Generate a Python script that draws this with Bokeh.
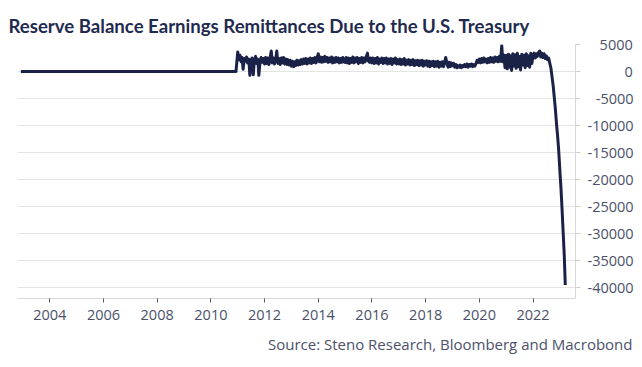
import pandas as pd
from bokeh.plotting import figure
from bokeh.models import FixedTicker, DatetimeTickFormatter, Title, Range1d
from bokeh.embed import file_html
from bokeh.resources import INLINE

title_text = "Reserve Balance Earnings Remittances Due to the U.S. Treasury"
source_text = "Source: Steno Research, Bloomberg and Macrobond"

# flat zero stretch before weekly remittances began
zero_dates = ["2002-12-04", "2010-12-08"]
zero_vals = [0, 0]

# semi-monthly readings (1st and 15th of each month), millions USD
y2011 = [3600, 2200, 3000, 1800, 2600, 400, 2400, 1900, 2700, 1600, 2300, -700,
         1800, 2500, -600, 2100, 2800, 1500, 2300, -700, 1900, 2600, 1700, 2400]
y2012 = [1400, 2600, 1500, 2500, 1300, 2400, 3800, 1600, 2500, 1400, 2300, 3800,
         1500, 2400, 1300, 2500, 1600, 2600, 1400, 2300, 1300, 2200, 1200, 2100]
y2013 = [1000, 1900, 900, 1800, 1100, 2100, 1200, 2000, 1300, 2200, 1400, 2300,
         1500, 2400, 1400, 2300, 1600, 2500, 1500, 2400, 1700, 2600, 1600, 2500]
y2014 = [3300, 1800, 2700, 1700, 2600, 1800, 2800, 1900, 2600, 1700, 2500, 1800,
         2700, 1600, 2500, 1700, 2600, 1800, 2500, 1600, 2400, 1700, 2600, 1800]
y2015 = [1700, 2600, 1600, 2500, 1500, 2400, 1700, 2700, 1600, 2500, 1800, 2600,
         1500, 2400, 1700, 2600, 1600, 2500, 1800, 2700, 3400, 1900, 1700, 2500]
y2016 = [1600, 2500, 1500, 2400, 1600, 2600, 1400, 2300, 1700, 2500, 1500, 2400,
         1600, 2500, 1400, 2300, 1500, 2400, 1300, 2300, 1600, 2500, 1400, 2200]
y2017 = [1400, 2300, 1300, 2200, 1400, 2400, 1200, 2100, 1400, 2200, 1200, 2100,
         1300, 2200, 1100, 2000, 1300, 2100, 1100, 2000, 1200, 2100, 1000, 1900]
y2018 = [1200, 2000, 1000, 1900, 900, 1800, 1100, 1900, 900, 1800, 1000, 1900,
         800, 1700, 1000, 1800, 900, 1700, 2600, 1600, 800, 1700, 900, 1600]
y2019 = [1100, 1500, 800, 1300, 700, 1100, 800, 1200, 700, 1100, 900, 1300,
         900, 1400, 800, 1300, 1000, 1400, 900, 1300, 1000, 1400, 2100, 1700]
y2020 = [2300, 1600, 2400, 1700, 2500, 1800, 2300, 1600, 2400, 1700, 2600, 1800,
         2500, 1700, 2700, 1900, 2600, 1800, 2800, 1900, 4800, 1800, 3000, 700]
y2021 = [3000, 500, 3200, 800, 2900, 200, 3300, 1000, 3100, 600, 3400, 900,
         2800, 300, 3200, 1200, 3000, 700, 3300, 1100, 2900, 800, 3400, 1500]
y2022 = [2900, 3400, 2500, 3300, 2800, 3500, 3800, 2700, 3400, 2600, 3300, 2400,
         2900, 2200, 2500, 1600, 600, -900, -2600, -4600, -7100, -9600, -12000, -14500]
y2023 = [-18500, -21500, -26000, -30000, -34000, -39500]

tick_years = [2004, 2006, 2008, 2010, 2012, 2014, 2016, 2018, 2020, 2022]
y_ticks = [5000, 0, -5000, -10000, -15000, -20000, -25000, -30000, -35000, -40000]

dates = pd.date_range("2011-01-01", "2023-03-15", freq="SMS")
values = (y2011 + y2012 + y2013 + y2014 + y2015 + y2016 + y2017 + y2018
          + y2019 + y2020 + y2021 + y2022 + y2023)
assert len(dates) == len(values)

xs = list(pd.to_datetime(zero_dates)) + list(dates)
ys = zero_vals + values

navy = "#1b2247"
label_color = "#4b5169"

p = figure(width=642, height=367, x_axis_type="datetime", y_axis_location="right",
           output_backend="svg", toolbar_location=None,
           x_range=Range1d(pd.Timestamp("2002-10-19"), pd.Timestamp("2023-08-01")),
           y_range=Range1d(-42000, 5000),
           min_border_left=17, min_border_right=67, min_border_top=44, min_border_bottom=69)

p.line(xs, ys, line_color=navy, line_width=3, line_join="round")

p.title.text = title_text
p.title.text_font = "Lato"
p.title.text_font_style = "bold"
p.title.text_font_size = "18.6px"
p.title.text_color = "#1f2a4f"
p.title.offset = -9
p.title.standoff = 16

p.outline_line_color = None
p.xgrid.visible = False
p.ygrid.grid_line_color = "#e4e4e4"
p.ygrid.grid_line_width = 1

xa = p.xaxis[0]
xa.ticker = FixedTicker(ticks=[pd.Timestamp(f"{yr}-01-01").timestamp() * 1000 for yr in tick_years])
xa.formatter = DatetimeTickFormatter(years="%Y", months="%Y", days="%Y", hours="%Y")
xa.axis_line_color = "#d8d8d8"
xa.major_tick_line_color = "#555555"
xa.major_tick_in = 0
xa.major_tick_out = 4
xa.minor_tick_line_color = None
xa.major_label_text_font = "Open Sans"
xa.major_label_text_font_size = "14.5px"
xa.major_label_text_color = label_color
xa.major_label_standoff = 7

ya = p.yaxis[0]
ya.ticker = FixedTicker(ticks=y_ticks)
ya.axis_line_color = "#d8d8d8"
ya.major_tick_line_color = "#d0d0d0"
ya.major_tick_in = 0
ya.major_tick_out = 5
ya.minor_tick_line_color = None
ya.major_label_text_font = "Open Sans"
ya.major_label_text_font_size = "14.5px"
ya.major_label_text_color = label_color
ya.major_label_standoff = 7

# right-align the y labels: pad with figure spaces (digit width) and punctuation spaces (sign width)
max_digits = max(sum(c.isdigit() for c in str(v)) for v in y_ticks)
max_signs = max(str(v).count("-") for v in y_ticks)
def padded(v):
    s = str(v)
    return ("\u2007" * (max_digits - sum(c.isdigit() for c in s))
            + "\u2008" * (max_signs - s.count("-")) + s)
ya.major_label_overrides = {v: padded(v) for v in y_ticks}

src = Title(text=source_text, align="right", text_font="Open Sans", text_font_size="15px",
            text_font_style="normal", text_color=label_color, offset=-57, standoff=18)
p.add_layout(src, "below")

open("out.html", "w").write(file_html(p, INLINE))
